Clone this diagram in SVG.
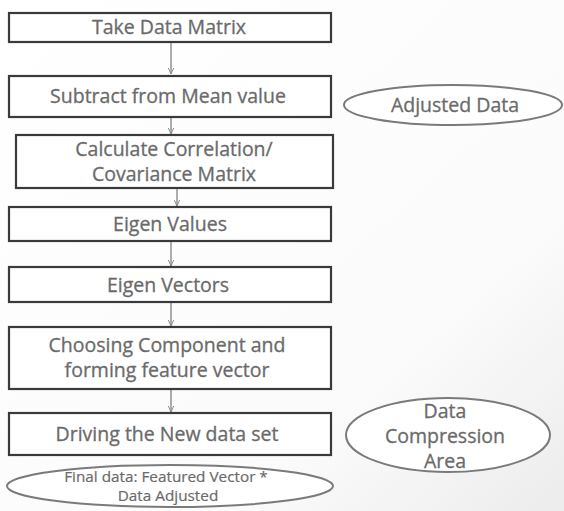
<svg xmlns="http://www.w3.org/2000/svg" width="564" height="511" viewBox="0 0 564 511">
  <defs>
    <linearGradient id="bg" x1="0" y1="0" x2="1" y2="1">
      <stop offset="0" stop-color="#ffffff"/>
      <stop offset="0.7" stop-color="#fbfbfb"/>
      <stop offset="1" stop-color="#ececec"/>
    </linearGradient>
    <marker id="arr" viewBox="0 0 10 10" refX="9" refY="5" markerWidth="7" markerHeight="7" orient="auto" markerUnits="userSpaceOnUse">
      <path d="M0,1 L9,5 L0,9" fill="none" stroke="#8a8a8a" stroke-width="1.4"/>
    </marker>
    <style>
      .box { fill: #ffffff; stroke: #3a3a3a; stroke-width: 2.2; }
      .oval { fill: #ffffff; stroke: #7a7a7a; stroke-width: 2; }
      .lbl { font-family: "Open Sans", "Noto Sans", sans-serif; font-size: 19.5px; fill: #6a6a6a; stroke: #6a6a6a; stroke-width: 0.3; text-anchor: middle; }
      .small { font-size: 15.3px; stroke-width: 0.2; }
      .link { stroke: #8a8a8a; stroke-width: 1.4; fill: none; marker-end: url(#arr); }
    </style>
  </defs>

  <rect width="564" height="511" fill="url(#bg)"/>

  <!-- connectors between the steps -->
  <g id="connectors">
    <line class="link" x1="171" y1="43" x2="171" y2="74"/>
    <line class="link" x1="171" y1="118" x2="171" y2="134"/>
    <line class="link" x1="177" y1="189" x2="177" y2="206"/>
    <line class="link" x1="171" y1="242" x2="171" y2="266"/>
    <line class="link" x1="171" y1="303" x2="171" y2="326"/>
    <line class="link" x1="171" y1="390" x2="171" y2="412"/>
  </g>

  <g id="take-data-matrix">
    <rect class="box" x="9" y="13" width="322" height="29"/>
    <text class="lbl" x="169" y="34">Take Data Matrix</text>
  </g>

  <g id="subtract-mean">
    <rect class="box" x="9" y="76" width="322" height="41"/>
    <text class="lbl" x="168" y="103">Subtract from Mean value</text>
  </g>

  <g id="adjusted-data">
    <ellipse class="oval" cx="453" cy="105" rx="109" ry="20"/>
    <text class="lbl" x="455" y="112">Adjusted Data</text>
  </g>

  <g id="covariance">
    <rect class="box" x="16" y="135" width="317" height="53"/>
    <text class="lbl" x="174" y="156">Calculate Correlation/</text>
    <text class="lbl" x="174" y="181">Covariance Matrix</text>
  </g>

  <g id="eigen-values">
    <rect class="box" x="9" y="207" width="322" height="34"/>
    <text class="lbl" x="170" y="231">Eigen Values</text>
  </g>

  <g id="eigen-vectors">
    <rect class="box" x="9" y="267" width="322" height="35"/>
    <text class="lbl" x="168" y="292">Eigen Vectors</text>
  </g>

  <g id="feature-vector">
    <rect class="box" x="9" y="327" width="322" height="62"/>
    <text class="lbl" x="167" y="352">Choosing Component and</text>
    <text class="lbl" x="167" y="377">forming feature vector</text>
  </g>

  <g id="new-data-set">
    <rect class="box" x="9" y="413" width="322" height="42"/>
    <text class="lbl" x="167" y="441">Driving the New data set</text>
  </g>

  <g id="data-compression">
    <ellipse class="oval" cx="448" cy="435" rx="102" ry="37"/>
    <text class="lbl" x="445" y="418">Data</text>
    <text class="lbl" x="445" y="443">Compression</text>
    <text class="lbl" x="445" y="468">Area</text>
  </g>

  <g id="final-data">
    <ellipse class="oval" cx="170" cy="486" rx="163" ry="21"/>
    <text class="lbl small" x="166" y="482">Final data: Featured Vector *</text>
    <text class="lbl small" x="168" y="501">Data Adjusted</text>
  </g>
</svg>
